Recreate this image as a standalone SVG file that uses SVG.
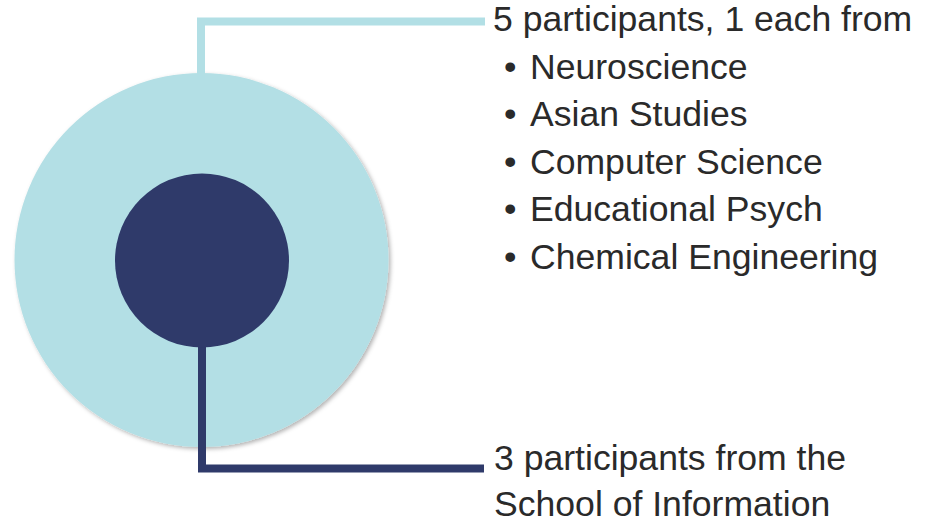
<svg xmlns="http://www.w3.org/2000/svg" width="935" height="523" viewBox="0 0 935 523">
<defs>
<filter id="sh" x="-10%" y="-10%" width="125%" height="125%">
<feDropShadow dx="2" dy="2" stdDeviation="2" flood-color="#000" flood-opacity="0.3"/>
</filter>
</defs>
<style>
.t{font-family:"Liberation Sans",Arial,sans-serif;font-size:35.6px;fill:#2a2a2a}
.light{fill:none;stroke:#B2DFE5;stroke-width:8}
.dark{fill:none;stroke:#2F3A6A;stroke-width:8}
</style>
<rect width="935" height="523" fill="#fff"/>
<g id="outer">
<circle cx="201.5" cy="260" r="187" fill="#B3DFE5" filter="url(#sh)"/>
</g>
<g id="connectors">
<path class="light" d="M201,80 V21.5 H485"/>
<path class="dark" d="M202,300 V468.5 H484"/>
</g>
<g id="inner">
<circle cx="202" cy="260.5" r="87" fill="#2F3A6A"/>
</g>
<g id="label-top">
<text class="t" x="493" y="31">5 participants, 1 each from</text>
<text class="t" x="504" y="78.5">•</text>
<text class="t" x="530" y="78.5">Neuroscience</text>
<text class="t" x="504" y="126">•</text>
<text class="t" x="530" y="126">Asian Studies</text>
<text class="t" x="504" y="173.5">•</text>
<text class="t" x="530" y="173.5">Computer Science</text>
<text class="t" x="504" y="221">•</text>
<text class="t" x="530" y="221">Educational Psych</text>
<text class="t" x="504" y="268.5">•</text>
<text class="t" x="530" y="268.5">Chemical Engineering</text>
</g>
<g id="label-bottom">
<text class="t" x="494" y="470">3 participants from the</text>
<text class="t" x="494" y="516">School of Information</text>
</g>
</svg>
